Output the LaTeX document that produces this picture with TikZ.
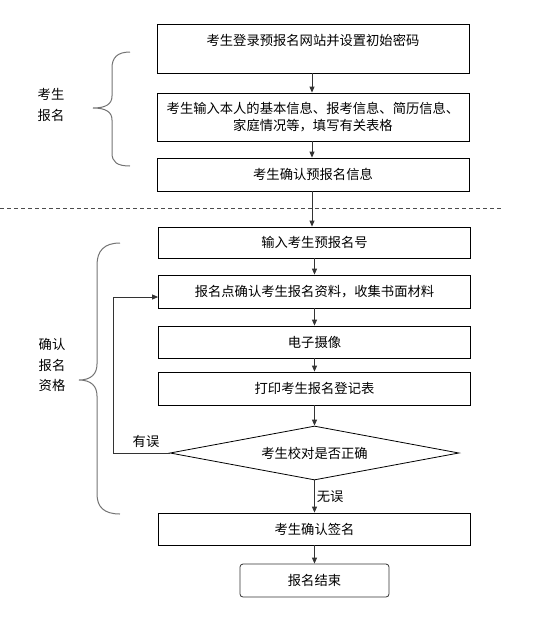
\documentclass[tikz,border=0pt]{standalone}
\usepackage{fontspec}
\setmainfont{Noto Sans CJK SC}
\usetikzlibrary{shapes.geometric,arrows.meta}
\begin{document}
\begin{tikzpicture}[x=1pt,y=-1pt,
  every node/.style={font=\fontsize{13.3}{17}\selectfont},
  box/.style={draw=black,line width=0.8pt,minimum width=312pt,inner sep=0pt,align=center},
  endbox/.style={draw=black!80,line width=0.8pt,rounded corners=3pt,minimum width=149pt,minimum height=33pt,inner sep=0pt},
  dec/.style={draw=black,line width=0.8pt,diamond,aspect=5.35,minimum width=289pt,minimum height=54pt,inner sep=0pt},
  flow/.style={draw=black!80,line width=0.8pt,-{Triangle[length=6pt,width=5pt]}},
  brace/.style={draw=black!55,line width=1pt},
  lbl/.style={inner sep=0pt,align=center,font=\fontsize{13.3}{20.5}\selectfont}]
\useasboundingbox (0,0) rectangle (544,633);
% boxes
\node[box,minimum height=49pt] (b1) at (313,48.5) {考生登录预报名网站并设置初始密码\\~};
\node[box,minimum height=48pt] (b2) at (313,117) {考生输入本人的基本信息、报考信息、简历信息、\\家庭情况等，填写有关表格};
\node[box,minimum height=33pt] (b3) at (313,174.5) {考生确认预报名信息};
\node[box,minimum height=31pt] (b4) at (314.5,242.5) {输入考生预报名号};
\node[box,minimum height=33pt] (b5) at (314.5,291.5) {报名点确认考生报名资料，收集书面材料};
\node[box,minimum height=32pt] (b6) at (314.5,342) {电子摄像};
\node[box,minimum height=33pt] (b7) at (314.5,388.5) {打印考生报名登记表};
\node[dec] (d) at (314.5,453) {考生校对是否正确};
\node[box,minimum height=32pt] (b8) at (314.5,529) {考生确认签名};
\node[endbox] (e) at (314.5,580.5) {报名结束};
% dashed separator
\coordinate (dl) at (0,208);
\coordinate (dr) at (503,208);
\draw[draw=black!70,line width=0.8pt,dash pattern=on 4pt off 3pt] (dl) -- (dr);
% connectors
\draw[flow] (b1.south -| 312,0) -- (b2.north -| 312,0);
\draw[flow] (b2.south -| 312,0) -- (b3.north -| 312,0);
\draw[flow] (b3.south -| 312,0) -- (b4.north -| 312,0);
\draw[flow] (b4) -- (b5);
\draw[flow] (b5) -- (b6);
\draw[flow] (b6) -- (b7);
\draw[flow] (b7) -- (d);
\draw[flow] (d) -- node[lbl,right=2pt,pos=0.5] (ok) {无误} (b8);
\draw[flow] (b8) -- (e);
\coordinate (fbb) at (113,453);
\coordinate (fbt) at (113,297);
\draw[flow] (d.west) -- (fbb) -- (fbt) -- (b5.west |- fbt);
\node[lbl] (err) at (146,441) {有误};
% braces
\draw[brace] (130,52) .. controls (117,52) and (112,58) .. (112,68) -- (112,96)
  .. controls (112,104) and (106,108) .. (93,108)
  .. controls (106,108) and (112,112) .. (112,120) -- (112,153)
  .. controls (112,162) and (117,166) .. (130,166);
\draw[brace] (120,243) .. controls (104,243) and (97,251) .. (97,265) -- (97,364)
  .. controls (97,374) and (91,380) .. (79,380)
  .. controls (91,380) and (97,386) .. (97,396) -- (97,494)
  .. controls (97,507) and (104,514) .. (120,514);
\node[lbl] (g1) at (51,105) {考生\\报名};
\node[lbl] (g2) at (52,365) {确认\\报名\\资格};
\end{tikzpicture}
\end{document}
